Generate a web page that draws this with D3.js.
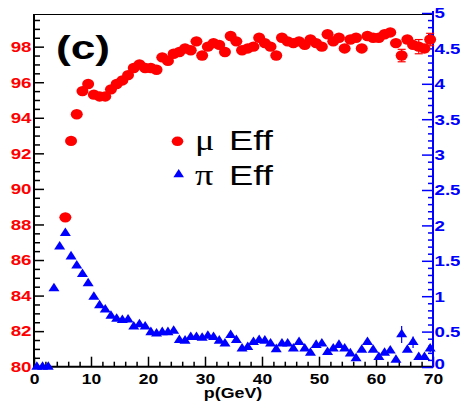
<!DOCTYPE html>
<html><head><meta charset="utf-8">
<script src="https://cdn.jsdelivr.net/npm/d3@7"></script>
<style>body{margin:0;background:#fff}svg{display:block}</style>
</head><body><svg id="c" width="460" height="403"></svg>
<script>
// ---- data ----
const muP = [5.5,6.5,7.5,8.5,9.5,10.5,11.5,12.5,13.5,14.5,15.5,16.5,17.5,18.5,19.5,20.5,21.5,22.5,23.5,24.5,
  25.5,26.5,27.5,28.5,29.5,30.5,31.5,32.5,33.5,34.5,35.5,36.5,37.5,38.5,39.5,40.5,41.5,42.5,43.5,44.5,
  45.5,46.5,47.5,48.5,49.5,50.5,51.5,52.5,53.5,54.5,55.5,56.5,57.5,58.5,59.5,60.5,61.5,62.5,63.5,64.5,
  65.5,66.5,67.5,68.5,69.5];
const muEff = [88.4,92.7,94.2,95.5,95.9,95.3,95.2,95.2,95.6,95.9,96.1,96.4,96.8,97.0,96.8,96.8,96.7,97.4,97.2,97.6,
  97.7,97.9,97.8,98.3,97.5,98.0,98.2,98.1,97.7,98.6,98.3,97.8,97.9,98.0,98.5,98.2,98.0,97.5,98.5,98.3,
  98.2,98.3,98.1,98.4,98.2,98.0,98.7,98.3,98.5,97.9,98.4,98.5,97.9,98.6,98.5,98.5,98.7,98.8,98.2,97.5,
  98.4,98.1,98.0,97.9,98.4];
const muErr = [0,0,0,0,0,0,0,0,0,0,0,0,0,0,0,0,0,0,0,0,
  0,0,0,0,0,0,0,0,0,0,0,0,0,0,0,0,0,0,0,0,
  0,0,0,0,0,0,0,0,0,0,0,0,0,0,0,0,0,0,0,0.35,
  0,0.1,0.4,0.2,0.35];
const piP = [0.5,1.5,2.5,3.5,4.5,5.5,6.5,7.5,8.5,9.5,10.5,11.5,12.5,13.5,14.5,15.5,16.5,17.5,18.5,19.5,
  20.5,21.5,22.5,23.5,24.5,25.5,26.5,27.5,28.5,29.5,30.5,31.5,32.5,33.5,34.5,35.5,36.5,37.5,38.5,39.5,
  40.5,41.5,42.5,43.5,44.5,45.5,46.5,47.5,48.5,49.5,50.5,51.5,52.5,53.5,54.5,55.5,56.5,57.5,58.5,59.5,
  60.5,61.5,62.5,63.5,64.5,65.5,66.5,67.5,68.5,69.5];
const piEff = [0.0,0.0,0.0,1.11,1.70,1.89,1.56,1.43,1.31,1.18,0.99,0.87,0.81,0.72,0.68,0.66,0.67,0.57,0.60,0.57,
  0.49,0.47,0.49,0.49,0.51,0.38,0.37,0.42,0.42,0.41,0.44,0.42,0.37,0.33,0.45,0.38,0.26,0.28,0.35,0.38,
  0.37,0.33,0.25,0.33,0.33,0.26,0.35,0.26,0.20,0.31,0.33,0.21,0.26,0.31,0.26,0.19,0.12,0.24,0.35,0.24,
  0.14,0.20,0.23,0.10,0.46,0.24,0.35,0.14,0.14,0.26];
const piErr = [0,0,0,0,0,0,0,0,0,0,0,0,0,0,0,0,0,0,0,0,
  0,0,0,0,0,0,0,0,0,0,0,0,0,0,0,0,0,0,0,0,
  0,0,0,0,0,0,0,0,0,0,0,0,0,0,0,0,0,0,0,0,
  0,0,0,0,0.12,0,0.08,0,0,0.05];
const xTicks = [0,10,20,30,40,50,60,70];
const leftTicks = [80,82,84,86,88,90,92,94,96,98];
const rightTicks = [0,0.5,1,1.5,2,2.5,3,3.5,4,4.5,5];
const rightTickLabels = ["0","0.5","1","1.5","2","2.5","3","3.5","4","4.5","5"];
const legendSymbols = ["μ","π"];
const legendWord = "Eff";
const panelLabel = "(c)";
const xTitle = "p(GeV)";

// ---- drawing ----
const RED = "#ff0000", BLUE = "#0000ff";
const SX = 1.25;
const svg = d3.select("#c");
const x = d3.scaleLinear().domain([0,70]).range([34,433]);
const yL = d3.scaleLinear().domain([80,100]).range([366.7,11.1]);
const yR = d3.scaleLinear().domain([0,5]).range([367,13]);
const font = "'Liberation Sans', Arial, Helvetica, sans-serif";

function stretch(sel, sx){
  sel.each(function(){
    const t = d3.select(this);
    const xx = +t.attr("x") || 0;
    t.attr("x", xx/sx).attr("transform", `scale(${sx},1)`);
  });
}

// frame top line
svg.append("line").attr("x1",x(0)).attr("x2",x(70)).attr("y1",14.5).attr("y2",14.5)
  .attr("stroke","#000").attr("stroke-width",1.2);

// left axis
const minorL = d3.range(80,100.01,0.5).filter(v => v%2!==0 && yL(v) > 15);
const gLm = svg.append("g").attr("transform","translate(34,0)")
  .call(d3.axisLeft(yL).tickValues(minorL).tickSize(-6).tickSizeOuter(0).tickFormat(""));
const gL = svg.append("g").attr("transform","translate(34,0)")
  .call(d3.axisLeft(yL).tickValues(leftTicks).tickSize(-10).tickSizeOuter(0).tickPadding(2.5).tickFormat(d3.format("d")));
[gLm,gL].forEach(g=>{ g.select(".domain").remove(); g.selectAll("line").attr("stroke","#000").attr("stroke-width",1.5); });
gL.selectAll("text").attr("fill",RED).attr("font-family",font).attr("font-weight","bold").attr("font-size",15);
stretch(gL.selectAll("text"), SX);
svg.append("line").attr("x1",34).attr("x2",34).attr("y1",14).attr("y2",367.5).attr("stroke","#000").attr("stroke-width",2);

// bottom axis
const minorX = d3.range(0,70.01,2).filter(v => v%10!==0);
const gXm = svg.append("g").attr("transform","translate(0,366.7)")
  .call(d3.axisBottom(x).tickValues(minorX).tickSize(-5).tickSizeOuter(0).tickFormat(""));
const gX = svg.append("g").attr("transform","translate(0,366.7)")
  .call(d3.axisBottom(x).tickValues(xTicks).tickSize(-10).tickSizeOuter(0).tickPadding(7).tickFormat(d3.format("d")));
[gXm,gX].forEach(g=>{ g.select(".domain").remove(); g.selectAll("line").attr("stroke","#000").attr("stroke-width",1.5); });
gX.selectAll("text").attr("fill","#000").attr("font-family",font).attr("font-weight","bold").attr("font-size",14);
stretch(gX.selectAll("text"), SX);
svg.append("line").attr("x1",33).attr("x2",433).attr("y1",366.7).attr("y2",366.7).attr("stroke","#000").attr("stroke-width",2);

// right axis
const minorR = d3.range(0,5.001,0.1).filter(v => Math.abs(v*2-Math.round(v*2))>1e-6);
const gRm = svg.append("g").attr("transform","translate(433,0)")
  .call(d3.axisRight(yR).tickValues(minorR).tickSize(-5).tickSizeOuter(0).tickFormat(""));
const gR = svg.append("g").attr("transform","translate(433,0)")
  .call(d3.axisRight(yR).tickValues(rightTicks).tickSize(-11).tickSizeOuter(0).tickPadding(1.5)
    .tickFormat((d,i)=>rightTickLabels[i]));
[gRm,gR].forEach(g=>{ g.select(".domain").remove(); g.selectAll("line").attr("stroke",BLUE).attr("stroke-width",1.5); });
gR.selectAll("text").attr("fill",BLUE).attr("font-family",font).attr("font-weight","bold").attr("font-size",15);
gR.selectAll("text").filter(d=>d===0).attr("dy","0.1em");
stretch(gR.selectAll("text"), SX);
svg.append("line").attr("x1",433).attr("x2",433).attr("y1",11).attr("y2",367.5).attr("stroke",BLUE).attr("stroke-width",2);

// muon error bars + markers
const mu = muP.map((p,i)=>({p, v:muEff[i], e:muErr[i]}));
const muE = mu.filter(d=>d.e>0);
const gMu = svg.append("g");
gMu.selectAll("line.v").data(muE).join("line").attr("x1",d=>x(d.p)).attr("x2",d=>x(d.p))
  .attr("y1",d=>yL(d.v-d.e)).attr("y2",d=>yL(d.v+d.e)).attr("stroke",RED).attr("stroke-width",1.2);
gMu.selectAll("line.c1").data(muE.flatMap(d=>[d.v-d.e,d.v+d.e].map(v=>({p:d.p,v})))).join("line")
  .attr("x1",d=>x(d.p)-4).attr("x2",d=>x(d.p)+4).attr("y1",d=>yL(d.v)).attr("y2",d=>yL(d.v))
  .attr("stroke",RED).attr("stroke-width",1.2);
gMu.selectAll("ellipse").data(mu).join("ellipse").attr("cx",d=>x(d.p)).attr("cy",d=>yL(d.v))
  .attr("rx",6).attr("ry",5.2).attr("fill",RED);

// pion error bars + markers
const pi = piP.map((p,i)=>({p, v:piEff[i], e:piErr[i]}));
const piE = pi.filter(d=>d.e>0);
const gPi = svg.append("g");
gPi.selectAll("line.v").data(piE).join("line").attr("x1",d=>x(d.p)).attr("x2",d=>x(d.p))
  .attr("y1",d=>yR(d.v-d.e)).attr("y2",d=>yR(d.v+d.e)).attr("stroke",BLUE).attr("stroke-width",1.2);
const tri = d3.symbol(d3.symbolTriangle, 42);
gPi.selectAll("path").data(pi).join("path").attr("d",tri())
  .attr("transform",d=>`translate(${x(d.p)},${yR(d.v)}) scale(1.12,1)`).attr("fill",BLUE);

// panel label
svg.append("text").attr("transform","translate(56,58.5) scale(1.3,1)").attr("font-family",font)
  .attr("font-weight","bold").attr("font-size",34).attr("fill","#000").text(panelLabel);

// axis title
svg.append("text").attr("transform","translate(233,398) scale(1.15,1)").attr("text-anchor","middle")
  .attr("font-family",font).attr("font-weight","bold").attr("font-size",15.5).attr("fill","#000").text(xTitle);

// legend
const legY = [150,185];
const gLeg = svg.append("g");
gLeg.append("ellipse").attr("cx",177.5).attr("cy",141.3).attr("rx",5.8).attr("ry",4.8).attr("fill",RED);
gLeg.append("path").attr("d",d3.symbol(d3.symbolTriangle,40)()).attr("transform","translate(178.7,174.5) scale(1.1,1)").attr("fill",BLUE);
legendSymbols.forEach((s,i)=>{
  gLeg.append("text").attr("transform",`translate(195,${legY[i]}) scale(1.25,1)`)
    .attr("font-family","'Liberation Serif','Times New Roman',serif").attr("font-size",29).attr("fill","#000").text(s);
  gLeg.append("text").attr("transform",`translate(229,${legY[i]}) scale(1.28,1)`)
    .attr("font-family",font).attr("font-size",28.5).attr("fill","#000").text(legendWord);
});
</script></body></html>
